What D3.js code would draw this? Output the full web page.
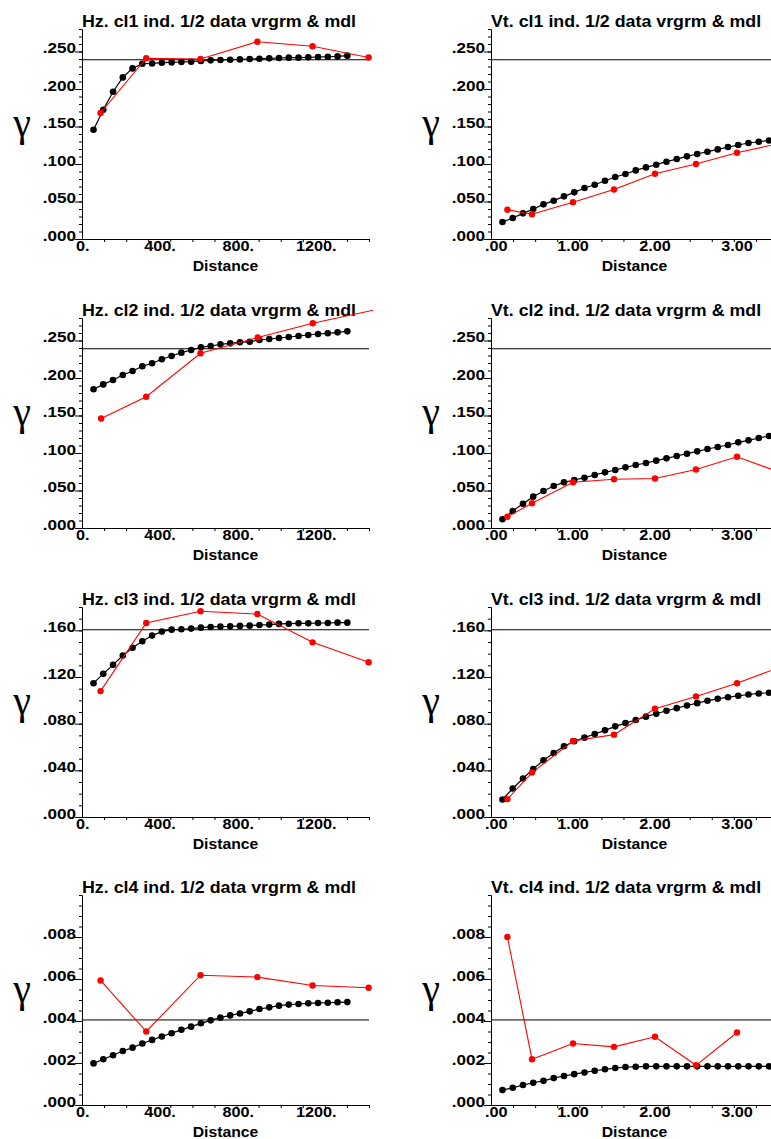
<!DOCTYPE html>
<html>
<head>
<meta charset="utf-8">
<script src="https://cdn.jsdelivr.net/npm/d3@7"></script>
<style>
  body { margin: 0; background: #fff; }
  svg { display: block; background: #fff; }
  text { font-family: "Liberation Sans", Arial, sans-serif; fill: #000; }
</style>
</head>
<body>
<svg id="chart" width="771" height="1139"></svg>
<script>
// --- Data: lags ---
const hzModelLags = [59, 109, 159, 209, 259, 309, 359, 409, 459, 509, 559, 609, 659, 709, 759, 809, 859, 909, 959, 1009, 1059, 1109, 1159, 1209, 1259, 1309, 1359];
const vtModelLags = [0.14, 0.265, 0.39, 0.515, 0.64, 0.765, 0.89, 1.015, 1.14, 1.265, 1.39, 1.515, 1.64, 1.765, 1.89, 2.015, 2.14, 2.265, 2.39, 2.515, 2.64, 2.765, 2.89, 3.015, 3.14, 3.265, 3.39, 3.515];
const hzRedLags = [95, 329, 607, 898, 1181, 1468];
const hz2RedLags = [98, 329, 607, 900, 1182, 1520];
const vtRedLags = [0.2, 0.5, 1.0, 1.5, 2.0, 2.5, 3.0, 3.5];

// --- Data: model values (black) ---
const hz1Model = [0.1457, 0.1724, 0.1964, 0.2155, 0.2275, 0.2337, 0.2341, 0.2351, 0.2355, 0.236, 0.2364, 0.2373, 0.2382, 0.2387, 0.2391, 0.2395, 0.24, 0.2404, 0.2409, 0.2413, 0.2418, 0.2418, 0.2422, 0.2427, 0.2431, 0.2435, 0.2445];
const hz2Model = [0.185, 0.1915, 0.1973, 0.204, 0.2093, 0.2156, 0.2196, 0.225, 0.2293, 0.2338, 0.2373, 0.2409, 0.2427, 0.2449, 0.2462, 0.2476, 0.2484, 0.2507, 0.252, 0.2533, 0.2547, 0.256, 0.2573, 0.2587, 0.2596, 0.2609, 0.2622];
const hz3Model = [0.1147, 0.1227, 0.1304, 0.1384, 0.145, 0.1506, 0.1555, 0.1589, 0.1606, 0.1609, 0.1615, 0.1623, 0.1629, 0.1632, 0.1634, 0.1638, 0.164, 0.1646, 0.1649, 0.1655, 0.1657, 0.166, 0.166, 0.1663, 0.1663, 0.1666, 0.1666];
const hz4Model = [0.00198, 0.00218, 0.00237, 0.00257, 0.00273, 0.00293, 0.0031, 0.00326, 0.00342, 0.00358, 0.00373, 0.00389, 0.00403, 0.00416, 0.00427, 0.00436, 0.00446, 0.00457, 0.00465, 0.00473, 0.00478, 0.00481, 0.00484, 0.00486, 0.00487, 0.00489, 0.0049];
const vt1Model = [0.0227, 0.028, 0.0342, 0.04, 0.0462, 0.0511, 0.0569, 0.0622, 0.068, 0.0724, 0.0777, 0.0827, 0.0867, 0.0915, 0.0955, 0.0991, 0.1031, 0.1066, 0.1102, 0.1133, 0.1164, 0.1195, 0.1226, 0.1253, 0.128, 0.1297, 0.1313, 0.1328];
const vt2Model = [0.0116, 0.0227, 0.0324, 0.0418, 0.0493, 0.056, 0.0609, 0.064, 0.0671, 0.0707, 0.0742, 0.0773, 0.0809, 0.084, 0.0867, 0.0898, 0.0929, 0.096, 0.0991, 0.1022, 0.1053, 0.108, 0.1107, 0.1142, 0.1169, 0.12, 0.1227, 0.1253];
const vt3Model = [0.015, 0.0244, 0.033, 0.0412, 0.0486, 0.0549, 0.0606, 0.0649, 0.068, 0.0711, 0.0743, 0.0777, 0.0805, 0.0831, 0.086, 0.0885, 0.0911, 0.0933, 0.0956, 0.0976, 0.0997, 0.1013, 0.1027, 0.1039, 0.105, 0.1059, 0.1065, 0.107];
const vt4Model = [0.00071, 0.00082, 0.00095, 0.00106, 0.00115, 0.00128, 0.00138, 0.00147, 0.00155, 0.00163, 0.0017, 0.00176, 0.00181, 0.00182, 0.00184, 0.00184, 0.00184, 0.00184, 0.00184, 0.00184, 0.00184, 0.00184, 0.00184, 0.00184, 0.00184, 0.00184, 0.00184, 0.00184];

// --- Data: experimental values (red) ---
const hz1Red = [0.168, 0.241, 0.240, 0.263, 0.257, 0.242];
const hz2Red = [0.146, 0.175, 0.233, 0.254, 0.273, 0.292];
const hz3Red = [0.1079, 0.1663, 0.1763, 0.174, 0.1497, 0.1327];
const hz4Red = [0.00593, 0.0035, 0.00618, 0.00609, 0.00569, 0.00558];
const vt1Red = [0.039, 0.033, 0.049, 0.066, 0.087, 0.100, 0.115, 0.127];
const vt2Red = [0.015, 0.033, 0.061, 0.065, 0.066, 0.078, 0.095, 0.075];
const vt3Red = [0.0153, 0.0381, 0.0651, 0.0706, 0.0928, 0.1033, 0.1147, 0.1278];
const vt4Red = [0.008, 0.00218, 0.00293, 0.00277, 0.00325, 0.00189, 0.00345];

// --- Sill lines, one per class ---
const sills = [0.239, 0.239, 0.1605, 0.00405];

// --- Tick labels ---
const yTicksA = [0, 0.05, 0.1, 0.15, 0.2, 0.25];
const yLabelsA = [".000", ".050", ".100", ".150", ".200", ".250"];
const yTicksB = [0, 0.04, 0.08, 0.12, 0.16];
const yLabelsB = [".000", ".040", ".080", ".120", ".160"];
const yTicksC = [0, 0.002, 0.004, 0.006, 0.008];
const yLabelsC = [".000", ".002", ".004", ".006", ".008"];
const hzTicks = [0, 400, 800, 1200];
const hzLabels = ["0.", "400.", "800.", "1200."];
const vtTicks = [0, 1, 2, 3];
const vtLabels = [".00", "1.00", "2.00", "3.00"];

const rowAxes = [
    { max: 0.28, minor: 0.01, ticks: yTicksA, labels: yLabelsA },
    { max: 0.28, minor: 0.01, ticks: yTicksA, labels: yLabelsA },
    { max: 0.18, minor: 0.01, ticks: yTicksB, labels: yLabelsB },
    { max: 0.010, minor: 0.0005, ticks: yTicksC, labels: yLabelsC }
];

const panels = [
    { title: "Hz. cl1 ind. 1/2 data vrgrm & mdl", kind: "hz", row: 0, model: hz1Model, lags: hzRedLags, data: hz1Red },
    { title: "Vt. cl1 ind. 1/2 data vrgrm & mdl", kind: "vt", row: 0, model: vt1Model, lags: vtRedLags, data: vt1Red },
    { title: "Hz. cl2 ind. 1/2 data vrgrm & mdl", kind: "hz", row: 1, model: hz2Model, lags: hz2RedLags, data: hz2Red },
    { title: "Vt. cl2 ind. 1/2 data vrgrm & mdl", kind: "vt", row: 1, model: vt2Model, lags: vtRedLags, data: vt2Red },
    { title: "Hz. cl3 ind. 1/2 data vrgrm & mdl", kind: "hz", row: 2, model: hz3Model, lags: hzRedLags, data: hz3Red },
    { title: "Vt. cl3 ind. 1/2 data vrgrm & mdl", kind: "vt", row: 2, model: vt3Model, lags: vtRedLags, data: vt3Red },
    { title: "Hz. cl4 ind. 1/2 data vrgrm & mdl", kind: "hz", row: 3, model: hz4Model, lags: hzRedLags, data: hz4Red },
    { title: "Vt. cl4 ind. 1/2 data vrgrm & mdl", kind: "vt", row: 3, model: vt4Model, lags: vtRedLags, data: vt4Red }
];

// --- Layout ---
const rowBottom = [239, 528, 817, 1105];
const plotH = 210;
const axisLen = 287;
const SX = 1.18; // the original lettering is a bit wider than Arial

const svg = d3.select("#chart");

// stretched text, anchored at (x, y)
function label(g, str, x, y, opts) {
    const t = g.append("text")
        .text(str)
        .attr("transform", `translate(${x},${y}) scale(${opts.sx || SX},1)`)
        .attr("text-anchor", opts.anchor || "start")
        .style("font-family", opts.family || null)
        .style("font-size", opts.size + "px")
        .style("font-weight", opts.weight || "bold");
    return t;
}

function drawPanel(p, i) {
    const axisX = p.kind === "hz" ? 82 : 491;
    const bottom = rowBottom[p.row];
    const top = bottom - plotH;
    const ax = rowAxes[p.row];
    const xMax = p.kind === "hz" ? 1470 : 3.5;

    const x = d3.scaleLinear().domain([0, xMax]).range([axisX, axisX + axisLen]);
    const y = d3.scaleLinear().domain([0, ax.max]).range([bottom, top]);

    const g = svg.append("g");

    // Y axis: minor + major ticks
    g.append("g")
        .attr("transform", `translate(${axisX},0)`)
        .call(d3.axisLeft(y).tickValues(d3.range(0, ax.max + ax.minor / 2, ax.minor))
            .tickSize(3).tickSizeOuter(0).tickFormat(""));
    g.append("g")
        .attr("transform", `translate(${axisX},0)`)
        .call(d3.axisLeft(y).tickValues(ax.ticks).tickSize(7).tickSizeOuter(0).tickFormat(""));

    // X axis: thirteen equal divisions along the axis
    g.append("g")
        .attr("transform", `translate(0,${bottom})`)
        .call(d3.axisBottom(x).tickValues(d3.range(1, 14).map(k => k * xMax / 13))
            .tickSize(3).tickSizeOuter(0).tickFormat(""));

    g.selectAll(".domain, .tick line").attr("stroke", "#000").attr("stroke-width", 1);

    // Y tick labels, sitting on their tick
    ax.ticks.forEach((v, k) => {
        label(g, ax.labels[k], axisX - 6, y(v) + 1.5, { size: 14.5, anchor: "end" });
    });

    // X tick labels
    const xt = p.kind === "hz" ? hzTicks : vtTicks;
    const xl = p.kind === "hz" ? hzLabels : vtLabels;
    xt.forEach((v, k) => {
        const t = label(g, xl[k], x(v), bottom + 12, { size: 14.5, anchor: "middle", sx: 1.12 });
        const w = t.node().getComputedTextLength() * 1.12;
        if (x(v) - w / 2 < axisX - 6) {
            t.attr("transform", `translate(${axisX - 6 + w / 2},${bottom + 12}) scale(1.12,1)`);
        }
    });

    label(g, "Distance", axisX + axisLen / 2, bottom + 32, { size: 15, anchor: "middle", sx: 1.05 });
    label(g, p.title, axisX, top - 2, { size: 16.5, sx: 1.08 });
    label(g, "γ", axisX - 60, bottom - 103, { size: 40, anchor: "middle", weight: "normal", sx: 1, family: "'Liberation Serif', 'DejaVu Serif', serif" });

    // Clip for marks that run past the right end of the axis
    const clipId = "clip" + i;
    svg.append("clipPath").attr("id", clipId)
        .append("rect")
        .attr("x", axisX - 10).attr("y", top - 20)
        .attr("width", axisLen + 14).attr("height", plotH + 30);

    const marks = g.append("g").attr("clip-path", `url(#${clipId})`);

    // Sill
    marks.append("line")
        .attr("x1", axisX).attr("x2", axisX + axisLen)
        .attr("y1", y(sills[p.row])).attr("y2", y(sills[p.row]))
        .attr("stroke", "#000").attr("stroke-width", 1);

    const line = d3.line().x(d => x(d[0])).y(d => y(d[1]));

    // Model (black)
    const modelLags = p.kind === "hz" ? hzModelLags : vtModelLags;
    const model = p.model.map((v, k) => [modelLags[k], v]);
    marks.append("path").datum(model)
        .attr("d", line).attr("fill", "none")
        .attr("stroke", "#000").attr("stroke-width", 1.2);
    marks.selectAll(".mdot").data(model).enter().append("circle")
        .attr("cx", d => x(d[0])).attr("cy", d => y(d[1]))
        .attr("r", 3.3).attr("fill", "#000");

    // Experimental (red)
    const data = p.data.map((v, k) => [p.lags[k], v]);
    marks.append("path").datum(data)
        .attr("d", line).attr("fill", "none")
        .attr("stroke", "#ff0000").attr("stroke-width", 1.1);
    marks.selectAll(".rdot").data(data).enter().append("circle")
        .attr("cx", d => x(d[0])).attr("cy", d => y(d[1]))
        .attr("r", 3.2).attr("fill", "#ff0000");
}

panels.forEach(drawPanel);
</script>
</body>
</html>
